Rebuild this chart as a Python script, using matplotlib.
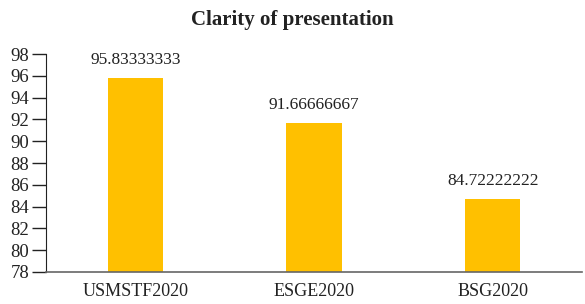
import matplotlib
matplotlib.use('Agg')
import matplotlib.pyplot as plt

categories = ["USMSTF2020", "ESGE2020", "BSG2020"]
values = [95.83333333, 91.66666667, 84.72222222]
labels = ["95.83333333", "91.66666667", "84.72222222"]
yticks = list(range(78, 100, 2))

plt.rcParams['font.family'] = ['Liberation Serif', 'DejaVu Serif']

fig = plt.figure(figsize=(5.85, 3.04), dpi=100)
ax = fig.add_axes([46 / 585, 1 - 272 / 304, 536 / 585, 218 / 304])

x = range(len(categories))
ax.bar(x, [v - 78 for v in values], bottom=78, width=0.31, color="#FFC000")
for i, v in enumerate(values):
    ax.text(i, v + 0.9, labels[i], ha="center", va="bottom", fontsize=12.5, color="#222222")

ax.set_xlim(-0.5, 2.5)
ax.set_ylim(78, 98)
ax.set_yticks(yticks)
ax.set_xticks(list(x))
ax.set_xticklabels(categories)
ax.tick_params(axis="y", length=10, width=1, labelsize=13.5, colors="#222222", pad=2)
ax.tick_params(axis="x", length=0, labelsize=13, colors="#222222", pad=8)
ax.spines["top"].set_visible(False)
ax.spines["right"].set_visible(False)
ax.spines["left"].set_color("#222222")
ax.spines["bottom"].set_color("#666666")
ax.spines["bottom"].set_linewidth(1.2)

fig.text(0.5, 1 - 20 / 304, "Clarity of presentation", ha="center", va="center",
         fontsize=15, fontweight="bold", color="#222222")

fig.savefig("out.png", dpi=100)
